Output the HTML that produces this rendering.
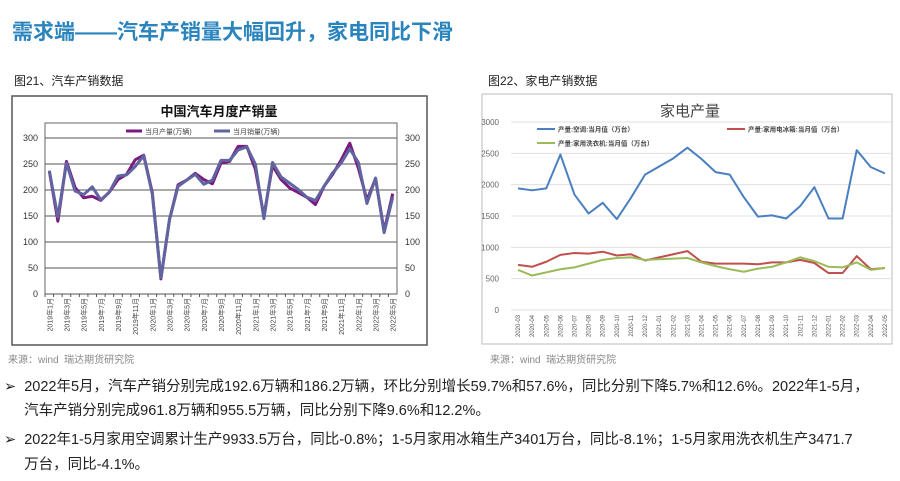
<!DOCTYPE html>
<html><head><meta charset="utf-8"><style>
body{margin:0;width:900px;height:481px;background:#fff;font-family:"Liberation Sans","Noto Sans CJK SC",sans-serif;position:relative;overflow:hidden}
.a{position:absolute;white-space:nowrap}
</style></head><body>
<div class="a" style="left:12px;top:16px;font-size:21px;font-weight:bold;color:#2a84bd">需求端——汽车产销量大幅回升，家电同比下滑</div>
<div class="a" style="left:14px;top:72px;font-size:12px;color:#222">图21、汽车产销数据</div>
<div class="a" style="left:488px;top:72px;font-size:12px;color:#222">图22、家电产销数据</div>
<div class="a" style="left:8px;top:351px;font-size:10px;color:#888">来源：wind&nbsp; 瑞达期货研究院</div>
<div class="a" style="left:490px;top:351px;font-size:10px;color:#888">来源：wind&nbsp; 瑞达期货研究院</div>
<div class="a" style="left:4px;top:375px;font-size:14.5px;color:#222;line-height:24px">➢&nbsp; 2022年5月，汽车产销分别完成192.6万辆和186.2万辆，环比分别增长59.7%和57.6%，同比分别下降5.7%和12.6%。2022年1-5月，<br>&nbsp;&nbsp;&nbsp;&nbsp; 汽车产销分别完成961.8万辆和955.5万辆，同比分别下降9.6%和12.2%。</div>
<div class="a" style="left:4px;top:428px;font-size:14.5px;color:#222;line-height:25px">➢&nbsp; 2022年1-5月家用空调累计生产9933.5万台，同比-0.8%；1-5月家用冰箱生产3401万台，同比-8.1%；1-5月家用洗衣机生产3471.7<br>&nbsp;&nbsp;&nbsp;&nbsp; 万台，同比-4.1%。</div>
<svg id="c1" class="a" style="left:0;top:0" width="900" height="481"></svg>
<script>
const months=[];for(const y of [2019,2020,2021,2022]){for(let m=1;m<=12;m++){if(y===2022&&m>5)break;months.push(y+"年"+m+"月");}}
const autoProd=[237,140,255,205,185,188,180,196,220,230,258,267,195,29,143,210,219,232,220,212,252,255,284,284,240,150,247,220,204,195,186,172,207,230,258,290,242,181,222,121,193];
const autoSales=[237,148,252,198,191,206,181,196,227,229,245,266,192,31,143,207,219,230,211,219,257,257,277,283,250,145,253,225,213,201,186,180,207,233,252,279,253,174,223,118,186];
const autoTicks=[0,50,100,150,200,250,300];
const homeCats=["2020-03","2020-04","2020-05","2020-06","2020-07","2020-08","2020-09","2020-10","2020-11","2020-12","2021-01","2021-02","2021-03","2021-04","2021-05","2021-06","2021-07","2021-08","2021-09","2021-10","2021-11","2021-12","2022-01","2022-02","2022-03","2022-04","2022-05"];
const acVals=[1940,1910,1940,2480,1840,1540,1710,1450,1790,2160,2290,2420,2590,2410,2200,2160,1800,1490,1510,1460,1660,1960,1460,1460,2550,2280,2180];
const fridgeVals=[720,690,770,880,910,900,930,870,890,790,840,890,940,770,740,740,740,730,760,760,800,750,590,590,860,650,670];
const washerVals=[640,550,600,650,680,740,800,830,840,800,810,820,830,760,700,650,610,660,690,760,840,780,690,680,760,640,670];
const homeTicks=[0,500,1000,1500,2000,2500,3000];
const NS="http://www.w3.org/2000/svg",svg=document.getElementById('c1');
function E(t,a,p){const e=document.createElementNS(NS,t);for(const k in a)e.setAttribute(k,a[k]);(p||svg).appendChild(e);return e;}
function T(x,y,s,a){const e=E('text',Object.assign({x:x,y:y,'font-family':'Liberation Sans, Noto Sans CJK SC, sans-serif'},a));e.textContent=s;return e;}
// chart 1
let b=E('rect',{x:12,y:96,width:415,height:249,fill:'#fff',stroke:'#555','stroke-width':1.5});

let t=T(219,116,'中国汽车月度产销量',{'font-size':13,'font-weight':'bold','text-anchor':'middle',fill:'#111'});

const L1=45,R1=397,Y0=294,Y1=138,n1=months.length,bw=(R1-L1)/n1;
const x1=i=>L1+bw*(i+0.5),y1=v=>Y0-(v/300)*(Y0-Y1);
E('rect',{x:L1,y:Y1-15,width:R1-L1,height:Y0-Y1+15,fill:'#fff',stroke:'#666'});
for(const v of autoTicks){E('line',{x1:L1,x2:R1,y1:y1(v),y2:y1(v),stroke:'#555','stroke-width':1});
let a=T(L1-7,y1(v)+3,v,{'font-size':9,'text-anchor':'end',fill:'#333'});
let c=T(R1+8,y1(v)+3,v,{'font-size':9,fill:'#333'});}
months.forEach((m,i)=>{E('line',{x1:L1+bw*i,x2:L1+bw*i,y1:Y0,y2:Y0+3,stroke:'#555'});
if(i%2===0){let l=T(0,0,m,{'font-size':7,fill:'#444','text-anchor':'end',transform:`translate(${x1(i)+3},${Y0+4}) rotate(-90)`});}});
function line(vals,xf,yf,col,w,name){const p=E('polyline',{points:vals.map((v,i)=>xf(i)+','+yf(v)).join(' '),fill:'none',stroke:col,'stroke-width':w,'stroke-linejoin':'round'});}
line(autoProd,x1,y1,'#7b1a7f',3,'series-production');
line(autoSales,x1,y1,'#6064a0',3,'series-sales');
E('line',{x1:126,x2:142,y1:131,y2:131,stroke:'#7b1a7f','stroke-width':3});
let g=T(145,134,'当月产量(万辆)',{'font-size':7,fill:'#444'});
E('line',{x1:214,x2:230,y1:131,y2:131,stroke:'#6064a0','stroke-width':3});
g=T(233,134,'当月销量(万辆)',{'font-size':7,fill:'#444'});
// chart 2
b=E('rect',{x:482,y:94,width:410,height:250,fill:'#fff',stroke:'#bbb','stroke-width':1});

t=T(690,116,'家电产量',{'font-size':15,'text-anchor':'middle',fill:'#444'});

const L2=511,R2=892,Z0=310,Z1=122,n2=homeCats.length,bw2=(R2-L2)/n2;
const x2=i=>L2+bw2*(i+0.5),y2=v=>Z0-(v/3000)*(Z0-Z1);
for(const v of homeTicks){E('line',{x1:L2,x2:R2,y1:y2(v),y2:y2(v),stroke:'#e0e0e0'});
let a=T(L2-12,y2(v)+3,v,{'font-size':8,'text-anchor':'end',fill:'#666'});}
homeCats.forEach((c,i)=>{let l=T(0,0,c,{'font-size':6,fill:'#555','text-anchor':'end',transform:`translate(${x2(i)+2},${Z0+5}) rotate(-90)`});});
line(acVals,x2,y2,'#4a7fc0',2,'series-ac');
line(fridgeVals,x2,y2,'#c0504d',2,'series-fridge');
line(washerVals,x2,y2,'#9bbb59',2,'series-washer');
const lg=[[537,129,'#4a7fc0','产量:空调:当月值（万台）','legend-ac'],[727,129,'#c0504d','产量:家用电冰箱:当月值（万台）','legend-fridge'],[537,143,'#9bbb59','产量:家用洗衣机:当月值（万台）','legend-washer']];
for(const [x,y,c,s,nm] of lg){E('line',{x1:x,x2:x+18,y1:y,y2:y,stroke:c,'stroke-width':2});let q=T(x+21,y+2.5,s,{'font-size':6.5,'font-weight':'bold',fill:'#444'});}
</script>
</body></html>
